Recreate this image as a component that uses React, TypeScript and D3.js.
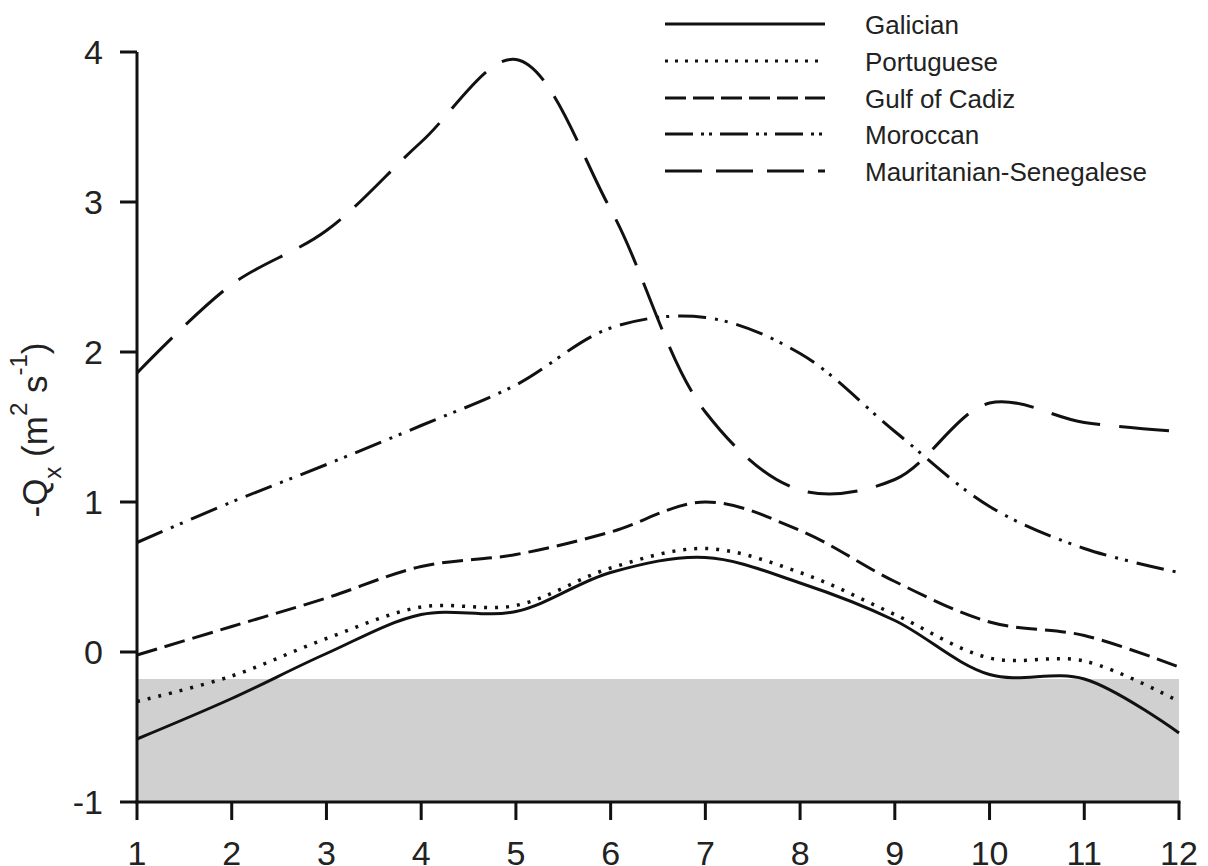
import React from "react";
import * as d3 from "d3";

const months = [1, 2, 3, 4, 5, 6, 7, 8, 9, 10, 11, 12];
const galician = [-0.58, -0.31, -0.01, 0.25, 0.27, 0.53, 0.63, 0.46, 0.21, -0.15, -0.18, -0.54];
const portuguese = [-0.33, -0.16, 0.09, 0.3, 0.31, 0.56, 0.69, 0.53, 0.25, -0.04, -0.06, -0.33];
const gulfOfCadiz = [-0.02, 0.17, 0.36, 0.57, 0.65, 0.8, 1.0, 0.81, 0.47, 0.2, 0.11, -0.1];
const moroccan = [0.73, 1.0, 1.25, 1.51, 1.78, 2.16, 2.23, 1.99, 1.47, 0.97, 0.69, 0.53];
const mauritanian = [1.86, 2.45, 2.81, 3.4, 3.95, 2.95, 1.6, 1.08, 1.15, 1.66, 1.53, 1.47];
const seriesNames = ["Galician", "Portuguese", "Gulf of Cadiz", "Moroccan", "Mauritanian-Senegalese"];
const yTicks = [-1, 0, 1, 2, 3, 4];
const xTicks = months;
const bandTop = -0.18;
const bandBottom = -1;

const dashes = ["", "3,8", "21,8", "28,9,3,7,3,9", "50,19"];
const legendDashes = ["", "3,7", "21,7", "28,8,3,5,3,8", "37,14"];

export default function App() {
  const x = d3.scaleLinear().domain([1, 12]).range([137, 1179]);
  const y = d3.scaleLinear().domain([-1, 4]).range([802, 52]);
  const allSeries = [galician, portuguese, gulfOfCadiz, moroccan, mauritanian];
  const line = d3
    .line<number>()
    .x((_, i) => x(months[i]))
    .y((d) => y(d))
    .curve(d3.curveCatmullRom.alpha(0.5));
  const font = "'Liberation Sans', Arial, sans-serif";
  const legendY = [24, 61, 98, 134, 171];

  return (
    <svg
      width={1208}
      height={866}
      style={{ position: "absolute", left: 0, top: 0, background: "#fff" }}
      fontFamily={font}
    >
      <rect
        x={x(1)}
        y={y(bandTop)}
        width={x(12) - x(1)}
        height={y(bandBottom) - y(bandTop)}
        fill="#d0d0d0"
      />
      {allSeries.map((s, i) => (
        <path
          key={i}
          d={line(s) || ""}
          fill="none"
          stroke="#111"
          strokeWidth={i === 1 ? 3.5 : 3}
          strokeDasharray={dashes[i] || undefined}
        />
      ))}
      {/* axes */}
      <line x1={x(1)} x2={x(1)} y1={y(4)} y2={y(-1) + 1.5} stroke="#111" strokeWidth={3} />
      <line x1={x(1) - 1.5} x2={x(12) + 1.5} y1={y(-1)} y2={y(-1)} stroke="#111" strokeWidth={3} />
      {yTicks.map((t) => (
        <g key={"y" + t}>
          <line x1={120} x2={x(1)} y1={y(t)} y2={y(t)} stroke="#111" strokeWidth={3} />
          <text x={103} y={y(t) + 12} textAnchor="end" fontSize={34} fill="#222">
            {t}
          </text>
        </g>
      ))}
      {xTicks.map((t) => (
        <g key={"x" + t}>
          <line x1={x(t)} x2={x(t)} y1={y(-1)} y2={820} stroke="#111" strokeWidth={3} />
          <text x={x(t)} y={865} textAnchor="middle" fontSize={34} fill="#222">
            {t}
          </text>
        </g>
      ))}
      {/* y label */}
      <text
        transform={`translate(47,430) rotate(-90)`}
        textAnchor="middle"
        fontSize={35}
        fill="#222"
      >
        <tspan>-Q</tspan>
        <tspan fontSize={24} dy={14}>x</tspan>
        <tspan dy={-14}>{" (m"}</tspan>
        <tspan fontSize={24} dy={-20}>2</tspan>
        <tspan dy={20}>{" s"}</tspan>
        <tspan fontSize={24} dy={-20}>-1</tspan>
        <tspan dy={20}>)</tspan>
      </text>
      {/* legend */}
      {seriesNames.map((n, i) => (
        <g key={n}>
          <line
            x1={665}
            x2={825}
            y1={legendY[i]}
            y2={legendY[i]}
            stroke="#111"
            strokeWidth={3}
            strokeDasharray={legendDashes[i] || undefined}
          />
          <text x={865} y={legendY[i] + 10} fontSize={26} fill="#222">
            {n}
          </text>
        </g>
      ))}
    </svg>
  );
}
